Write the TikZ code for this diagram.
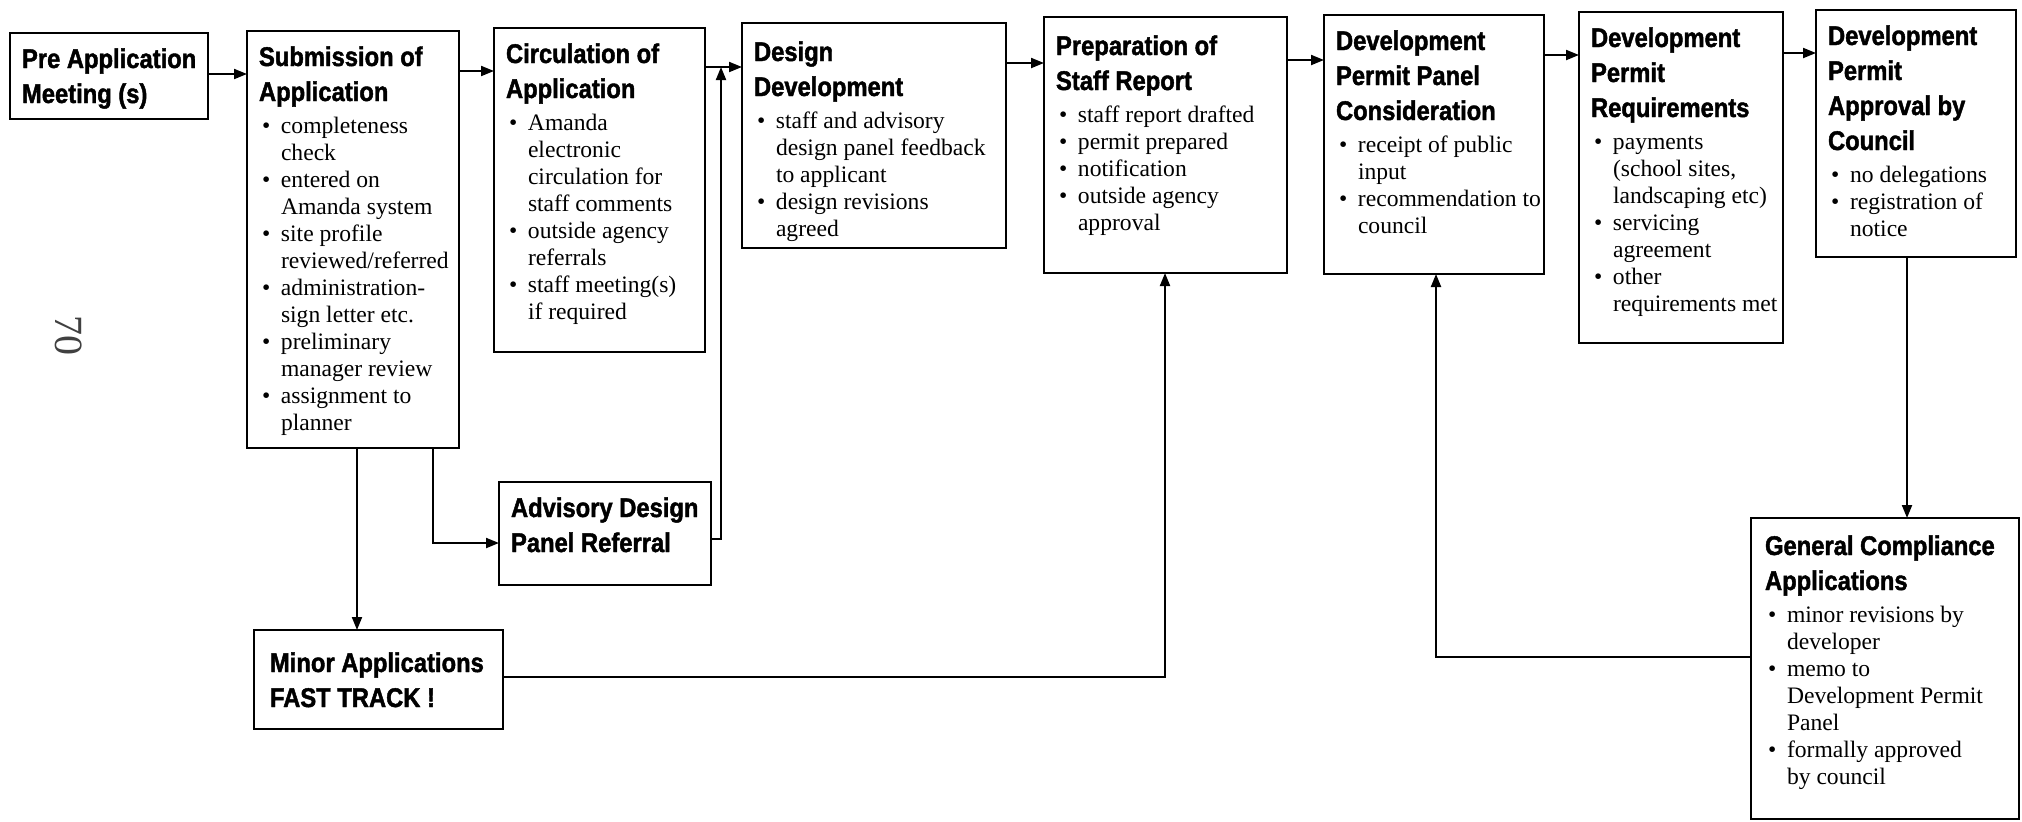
\documentclass[tikz,border=0pt]{standalone}
\usepackage{fontspec}
\setmainfont{Liberation Serif}
\newfontfamily\hdfont{Liberation Sans}[FakeStretch=0.88, BoldFeatures={FakeBold=1.6}]
\usetikzlibrary{arrows.meta}

\tikzset{every picture/.style={line width=0.75pt}}
\tikzset{
  stagenode/.style={draw, line width=1.2pt, anchor=north west, inner xsep=6pt, inner ysep=0pt, outer sep=0pt},
  flow/.style={line width=1pt, -{Triangle[length=6.5pt,width=5pt]}}
}
% bullet line with hanging indent
\newcommand{\bul}{\par\hangindent=11pt\hangafter=1\noindent\makebox[11pt][l]{\hspace{1.5pt}\textbullet}}
% [#1 first baseline] #2 text width, #3 box height, #4 heading, #5 bullets
\newcommand{\stagebox}[5][17.5pt]{\makebox[#2][l]{\parbox[t][#3][t]{\dimexpr#2+40pt\relax}{%
  {\hdfont\bfseries\fontsize{13.5}{17.5}\selectfont\rule{0pt}{#1}#4\par}\vspace{2.5pt}
  {\fontsize{11.8}{13.5}\selectfont #5\par}}}}

\begin{document}
\begin{tikzpicture}[x=0.5pt,y=0.5pt,yscale=-1,xscale=1]
\useasboundingbox (0,0) rectangle (2022,821);

% Text Node
\node [stagenode] (pre) at (10,33) {\stagebox{87pt}{43pt}{Pre Application\\Meeting (s)}{}};
% Text Node
\node [stagenode] (sub) at (247,31) {\stagebox{94pt}{208.5pt}{Submission of\\Application}{%
  \bul completeness\\check
  \bul entered on\\Amanda system
  \bul site profile\\reviewed/referred
  \bul administration-\\sign letter etc.
  \bul preliminary\\manager review
  \bul assignment to\\planner}};
% Text Node
\node [stagenode] (circ) at (494,28) {\stagebox{93.5pt}{162pt}{Circulation of\\Application}{%
  \bul Amanda\\electronic\\circulation for\\staff comments
  \bul outside agency\\referrals
  \bul staff meeting(s)\\if required}};
% Text Node
\node [stagenode] (des) at (742,23) {\stagebox[19pt]{120pt}{112.5pt}{Design\\Development}{%
  \bul staff and advisory\\design panel feedback\\to applicant
  \bul design revisions\\agreed}};
% Text Node
\node [stagenode] (prep) at (1044,17) {\stagebox[19pt]{109.5pt}{128pt}{Preparation of\\Staff Report}{%
  \bul staff report drafted
  \bul permit prepared
  \bul notification
  \bul outside agency\\approval}};
% Text Node
\node [stagenode] (panel) at (1324,15) {\stagebox{98pt}{129.5pt}{Development\\Permit Panel\\Consideration}{%
  \bul receipt of public\\input
  \bul recommendation to\\council}};
% Text Node
\node [stagenode] (req) at (1579,12) {\stagebox{90pt}{165.5pt}{Development\\Permit\\Requirements}{%
  \bul payments\\(school sites,\\landscaping etc)
  \bul servicing\\agreement
  \bul other\\requirements met}};
% Text Node
\node [stagenode] (appr) at (1816,10) {\stagebox{88pt}{123.5pt}{Development\\Permit\\Approval by\\Council}{%
  \bul no delegations
  \bul registration of\\notice}};
% Text Node
\node [stagenode] (adp) at (499,482) {\stagebox{94pt}{51.5pt}{Advisory Design\\Panel Referral}{}};
% Text Node
\node [stagenode, inner xsep=8pt] (minor) at (254,630) {\stagebox[21pt]{108.5pt}{49.5pt}{Minor Applications\\FAST TRACK !}{}};
% Text Node
\node [stagenode, inner xsep=7pt] (gen) at (1751,518) {\stagebox[18.5pt]{120pt}{150.5pt}{General Compliance\\Applications}{%
  \bul minor revisions by\\developer
  \bul memo to\\Development Permit\\Panel
  \bul formally approved\\by council}};
% Text Node
\node [rotate=-90, font=\fontsize{20}{20}\selectfont, text=black!75] (pgno) at (69,335) {70};

\coordinate (h1) at (0,74);
\coordinate (h2) at (0,71);
\coordinate (h3) at (0,67);
\coordinate (h4) at (0,63);
\coordinate (h5) at (0,60);
\coordinate (h6) at (0,55);
\coordinate (h7) at (0,53);
\coordinate (jn) at (721,67);
\coordinate (v1) at (433,543);
\coordinate (v2) at (357,0);
\coordinate (v3) at (1165,677);
\coordinate (v4) at (1436,657);
\coordinate (v5) at (1907,0);
\coordinate (v6) at (0,539);

%Straight Lines
\draw [flow] (pre.east |- h1) -- (sub.west |- h1);
\draw [flow] (sub.east |- h2) -- (circ.west |- h2);
\draw [flow] (circ.east |- h3) -- (des.west |- h3);
\draw [flow] (des.east |- h4) -- (prep.west |- h4);
\draw [flow] (prep.east |- h5) -- (panel.west |- h5);
\draw [flow] (panel.east |- h6) -- (req.west |- h6);
\draw [flow] (req.east |- h7) -- (appr.west |- h7);
%Straight Lines
\draw [flow] (sub.south -| v1) |- (adp.west |- v1);
\draw [flow] (sub.south -| v2) -- (minor.north -| v2);
\draw [flow] (adp.east |- v6) -| (jn);
\draw [flow] (minor.east |- v3) -| (prep.south -| v3);
\draw [flow] (gen.west |- v4) -| (panel.south -| v4);
\draw [flow] (appr.south -| v5) -- (gen.north -| v5);

\end{tikzpicture}
\end{document}
